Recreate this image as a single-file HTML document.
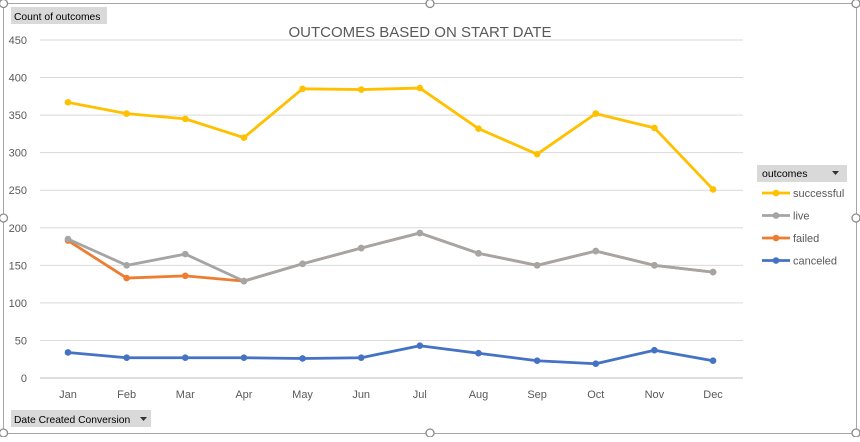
<!DOCTYPE html>
<html><head><meta charset="utf-8"><style>
body{margin:0;width:860px;height:437px;background:#fff;overflow:hidden;font-family:"Liberation Sans",sans-serif}
</style></head><body>
<svg id="c" width="860" height="437" xmlns="http://www.w3.org/2000/svg">
<rect x="3.5" y="3.5" width="853" height="430" fill="#fff" stroke="#a6a6a6"/>
<g fill="#fff" stroke="#8c8c8c" stroke-width="1.3">
<circle cx="3.5" cy="3.5" r="4"/><circle cx="430" cy="3.5" r="4"/><circle cx="856" cy="3.5" r="4"/>
<circle cx="3.5" cy="218" r="4"/><circle cx="856" cy="218" r="4"/>
<circle cx="3.5" cy="433" r="4"/><circle cx="430" cy="433" r="4"/><circle cx="856" cy="433" r="4"/>
</g>
<rect x="11" y="7" width="96" height="17" fill="#d9d9d9"/>
<text x="14" y="20" font-size="10.3" fill="#000">Count of outcomes</text>
<text x="420" y="37" font-size="15" fill="#595959" text-anchor="middle">OUTCOMES BASED ON START DATE</text>
<g id="grid"></g><g id="series"></g>
<rect x="757" y="165" width="90" height="17" fill="#d9d9d9"/>
<text x="762" y="177" font-size="10.5" fill="#000">outcomes</text>
<path d="M832 171 l7 0 l-3.5 4z" fill="#333"/>
<g id="legend"></g>
<rect x="11" y="410" width="140" height="17" fill="#d9d9d9"/>
<text x="14" y="423" font-size="10.3" fill="#000">Date Created Conversion</text>
<path d="M140 417 l7 0 l-3.5 4z" fill="#333"/>
</svg>
<script>
const months=["Jan","Feb","Mar","Apr","May","Jun","Jul","Aug","Sep","Oct","Nov","Dec"];
const yTicks=[0,50,100,150,200,250,300,350,400,450];
const successful=[367,352,345,320,385,384,386,332,298,352,333,251];
const live=[185,150,165,129,152,173,193,166,150,169,150,141];
const failed=[183,133,136,129,152,173,193,166,150,169,150,141];
const canceled=[34,27,27,27,26,27,43,33,23,19,37,23];
const NS="http://www.w3.org/2000/svg";
const x=i=>68+i*58.64, y=v=>378-v*(338/450);
const grid=document.getElementById('grid'),ser=document.getElementById('series'),leg=document.getElementById('legend');
function mk(t,a,p){const e=document.createElementNS(NS,t);for(const k in a)e.setAttribute(k,a[k]);p.appendChild(e);return e;}
yTicks.forEach(t=>{
 const l=mk('line',{x1:40,x2:743,y1:y(t),y2:y(t),stroke:t===0?'#bfbfbf':'#d9d9d9'},grid);
 
 
 const tx=mk('text',{x:27,y:y(t)+4,'font-size':11,fill:'#595959','text-anchor':'end'},grid);tx.textContent=t;
 
 
});
months.forEach((m,i)=>{const tx=mk('text',{x:x(i),y:398,'font-size':11,fill:'#595959','text-anchor':'middle'},grid);tx.textContent=m;
 
 });
const S=[["canceled",canceled,"#4472c4"],["failed",failed,"#ed7d31"],["live",live,"#a5a5a5"],["successful",successful,"#ffc000"]];
S.forEach(([n,d,c])=>{
 const p=mk('polyline',{points:d.map((v,i)=>x(i)+','+y(v)).join(' '),fill:'none',stroke:c,'stroke-width':2.8,'stroke-linejoin':'round'},ser);
 
 
 d.forEach((v,i)=>{const ci=mk('circle',{cx:x(i),cy:y(v),r:3.3,fill:c},ser);
  
  });
});
[["successful","#ffc000"],["live","#a5a5a5"],["failed","#ed7d31"],["canceled","#4472c4"]].forEach(([n,c],k)=>{
 const yy=193+k*22.5;
 const g=mk('g',{},leg);
 
 
 mk('line',{x1:762,x2:790,y1:yy,y2:yy,stroke:c,'stroke-width':2.8},g);
 mk('circle',{cx:776,cy:yy,r:3.3,fill:c},g);
 const t=mk('text',{x:793,y:yy+4,'font-size':11,fill:'#595959'},g);t.textContent=n;
});
</script>
</body></html>
